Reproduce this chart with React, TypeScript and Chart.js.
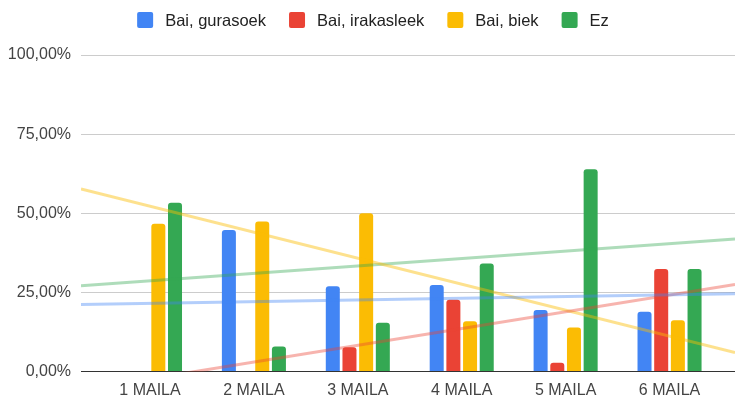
import React, { useEffect, useRef } from "react";
import { Chart, registerables } from "chart.js";

Chart.register(...registerables);

const categories = ["1 MAILA", "2 MAILA", "3 MAILA", "4 MAILA", "5 MAILA", "6 MAILA"];
const seriesNames = ["Bai, gurasoek", "Bai, irakasleek", "Bai, biek", "Ez"];
const gurasoek = [0, 44.7, 26.9, 27.3, 19.4, 18.9];
const irakasleek = [0, 0, 7.7, 22.7, 2.8, 32.4];
const biek = [46.7, 47.4, 50.0, 15.9, 13.9, 16.2];
const ez = [53.3, 7.9, 15.4, 34.1, 63.9, 32.4];
const yTicks = [0, 25, 50, 75, 100];

const seriesValues = [gurasoek, irakasleek, biek, ez];
const barColors = ["#4285F4", "#EA4335", "#FBBC04", "#34A853"];
const trendColors = [
  "rgba(66,133,244,0.40)",
  "rgba(234,67,53,0.40)",
  "rgba(251,188,4,0.45)",
  "rgba(52,168,83,0.40)",
];

const FONT = "'Liberation Sans', Arial, sans-serif";
const X_MIN = -0.664;
const X_MAX = 5.63;

function linearFit(vals: number[]) {
  const n = vals.length;
  const xs = vals.map((_, i) => i);
  const mx = xs.reduce((a, b) => a + b, 0) / n;
  const my = vals.reduce((a, b) => a + b, 0) / n;
  let sxy = 0;
  let sxx = 0;
  for (let i = 0; i < n; i++) {
    sxy += (xs[i] - mx) * (vals[i] - my);
    sxx += (xs[i] - mx) * (xs[i] - mx);
  }
  const slope = sxy / sxx;
  return { slope, intercept: my - slope * mx };
}

const legendPlugin = {
  id: "customLegend",
  afterDraw(chart: any) {
    const ctx = chart.ctx as CanvasRenderingContext2D;
    ctx.save();
    ctx.font = `16.5px ${FONT}`;
    const items = seriesNames.map((n, i) => ({ n, c: barColors[i], w: ctx.measureText(n).width }));
    const box = 16;
    const gap = 12;
    const sep = 23;
    const total = items.reduce((s, it) => s + box + gap + it.w, 0) + sep * (items.length - 1);
    let x = 373 - total / 2;
    const y = 20;
    for (const it of items) {
      ctx.fillStyle = it.c;
      ctx.beginPath();
      if ((ctx as any).roundRect) (ctx as any).roundRect(x, y - 8, box, box, 2);
      else ctx.rect(x, y - 8, box, box);
      ctx.fill();
      ctx.fillStyle = "#222222";
      ctx.textBaseline = "middle";
      ctx.textAlign = "left";
      ctx.fillText(it.n, x + box + gap, y + 1);
      x += box + gap + it.w + sep;
    }
    ctx.restore();
  },
};

export default function App() {
  const ref = useRef<HTMLCanvasElement | null>(null);

  useEffect(() => {
    if (!ref.current) return;
    const barSets = seriesValues.map((vals, i) => ({
      type: "bar" as const,
      label: seriesNames[i],
      data: vals.map((v, j) => ({ x: j, y: v })),
      backgroundColor: barColors[i],
      borderRadius: 3,
      borderSkipped: "start",
      categoryPercentage: 0.642,
      barPercentage: 0.84,
      order: 1,
    }));
    const trendSets = seriesValues.map((vals, i) => {
      const { slope, intercept } = linearFit(vals);
      return {
        type: "line" as const,
        label: seriesNames[i] + " trend",
        data: [
          { x: X_MIN, y: intercept + slope * X_MIN },
          { x: X_MAX, y: intercept + slope * X_MAX },
        ],
        borderColor: trendColors[i],
        borderWidth: 3,
        pointRadius: 0,
        fill: false,
        clip: 0,
        order: 0,
      };
    });

    const chart = new Chart(ref.current, {
      type: "bar",
      data: { datasets: [...barSets, ...trendSets] as any },
      options: {
        animation: false,
        responsive: false,
        maintainAspectRatio: false,
        layout: { padding: { top: 55, left: 0, right: 0, bottom: 0 } },
        plugins: { legend: { display: false }, tooltip: { enabled: false } },
        scales: {
          x: {
            type: "linear",
            offset: false,
            min: X_MIN,
            max: X_MAX,
            afterBuildTicks: (scale: any) => {
              scale.ticks = categories.map((_, i) => ({ value: i }));
            },
            afterFit: (scale: any) => {
              scale.height = 29.5;
            },
            grid: { display: false, drawTicks: false },
            border: { display: false },
            ticks: {
              autoSkip: false,
              maxRotation: 0,
              padding: 9,
              color: "#444444",
              font: { family: FONT, size: 16 },
              callback: (v: any) => categories[Math.round(Number(v))] ?? "",
            },
          },
          y: {
            min: 0,
            max: 100,
            afterBuildTicks: (scale: any) => {
              scale.ticks = yTicks.map((v) => ({ value: v }));
            },
            afterFit: (scale: any) => {
              scale.width = 81;
            },
            grid: {
              drawTicks: false,
              color: (c: any) => (c.tick && c.tick.value === 0 ? "#333333" : "#cccccc"),
              lineWidth: 1,
            },
            border: { display: false },
            ticks: {
              padding: 10,
              color: "#444444",
              font: { family: FONT, size: 16 },
              callback: (v: any) => Number(v).toFixed(2).replace(".", ",") + "%",
            },
          },
        },
      },
      plugins: [legendPlugin],
    } as any);

    return () => chart.destroy();
  }, []);

  return (
    <div style={{ position: "fixed", left: 0, top: 0, width: 735, height: 401, background: "#ffffff" }}>
      <canvas ref={ref} width={735} height={401} style={{ display: "block", width: 735, height: 401 }} />
    </div>
  );
}
